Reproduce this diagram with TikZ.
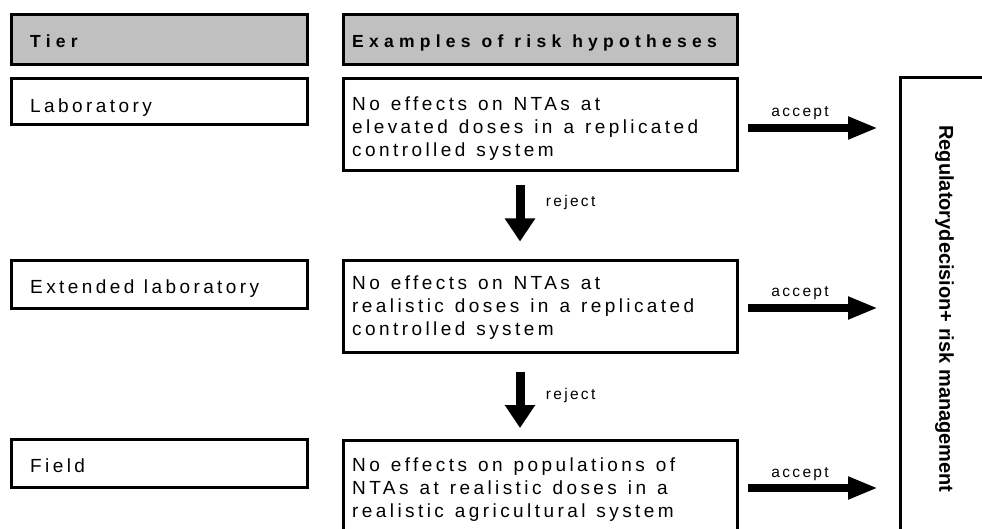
\documentclass[tikz,border=0pt]{standalone}
\usepackage{fontspec}
\usetikzlibrary{arrows.meta}
\setmainfont{Liberation Sans}
\newfontfamily\bodyfont[LetterSpace=18]{Liberation Sans}
\newfontfamily\headfont[LetterSpace=30]{Liberation Sans}
\newfontfamily\smallfont[LetterSpace=15]{Liberation Sans}
\protected\def\myhypfont{\bodyfont\fontsize{19}{23}\selectfont\spaceskip=11pt\relax}
\protected\def\myheadfont{\headfont\bfseries\fontsize{17.5}{21}\selectfont\spaceskip=11pt\relax}
\protected\def\mytierfont{\bodyfont\fontsize{19}{23}\selectfont\spaceskip=9.5pt\relax}
\definecolor{headgray}{HTML}{C0C0C0}
\begin{document}
\begin{tikzpicture}[x=1pt,y=-1pt,
  box/.style={draw=black, line width=3pt, rectangle, inner sep=0pt},
  tierbox/.style={box, minimum width=296pt, minimum height=#1},
  hypbox/.style={box, minimum width=394pt, minimum height=92pt},
  hyptext/.style={anchor=north west, align=left, inner sep=0pt, font=\myhypfont},
  headtext/.style={anchor=base west, inner sep=0pt, font=\myheadfont},
  tiertext/.style={anchor=base west, inner sep=0pt, font=\mytierfont},
  smalltext/.style={font=\smallfont\fontsize{15.5}{18}\selectfont},
  acc/.style={line width=8pt, -{Triangle[width=21pt,length=30pt]}},
  rej/.style={line width=9pt, -{Triangle[width=29pt,length=23pt]}}
]
\useasboundingbox (0,0) rectangle (982,529);
\clip (0,0) rectangle (982,529);
\fill[white] (0,0) rectangle (982,529);

% headers
\node[tierbox=50pt, fill=headgray] (th) at (159,40) {};
\node[hypbox, minimum height=50pt, fill=headgray] (eh) at (540,40) {};
\node[headtext] (tht) at (30,47.5) {Tier};
\node[headtext] (eht) at (352,47.5) {Examples of risk hypotheses};

% tiers
\node[tierbox=46pt] (t1) at (159,102) {};
\node[tierbox=47pt] (t2) at (159,284.5) {};
\node[tierbox=48pt] (t3) at (159,463) {};
\node[tiertext] (t1t) at (30,113) {Laboratory};
\node[tiertext] (t2t) at (30,294) {Extended laboratory};
\node[tiertext] (t3t) at (30,472) {Field};

% hypotheses
\node[hypbox] (h1) at (540,125) {};
\node[hypbox] (h2) at (540,306.5) {};
\node[hypbox] (h3) at (540,486) {};
\node[hyptext] (h1t) at (352,97) {No effects on NTAs at\\elevated doses in a replicated\\controlled system};
\node[hyptext] (h2t) at (352,275.5) {No effects on NTAs at\\realistic doses in a replicated\\controlled system};
\node[hyptext] (h3t) at (352,458) {No effects on populations of\\NTAs at realistic doses in a\\realistic agricultural system};

% regulatory box
\node[box, minimum width=89pt, minimum height=462pt] (rb) at (944.5,309) {};
\node[rotate=-90, font=\bfseries\fontsize{20}{24}\selectfont] (rt) at (rb.center) {Regulatorydecision+ risk management};

% accept arrows
\draw[acc, shorten <=9.5pt, shorten >=20.5pt] ([yshift=-3pt]h1.east) -- ([yshift=-3pt]h1.east -| rb.west)
  node[pos=0.385, anchor=base, yshift=11pt, smalltext] (a1) {accept};
\draw[acc, shorten <=9.5pt, shorten >=20.5pt] ([yshift=-1.5pt]h2.east) -- ([yshift=-1.5pt]h2.east -| rb.west)
  node[pos=0.385, anchor=base, yshift=11pt, smalltext] (a2) {accept};
\draw[acc, shorten <=9.5pt, shorten >=20.5pt] ([yshift=-2pt]h3.east) -- ([yshift=-2pt]h3.east -| rb.west)
  node[pos=0.385, anchor=base, yshift=11pt, smalltext] (a3) {accept};

% reject arrows
\draw[rej, shorten <=12.5pt, shorten >=17.5pt] ([xshift=-20pt]h1.south) -- ([xshift=-20pt]h2.north)
  node[pos=0.39, anchor=base west, xshift=18pt, smalltext] (r1) {reject};
\draw[rej, shorten <=17.5pt, shorten >=10.5pt] ([xshift=-20pt]h2.south) -- ([xshift=-20pt]h3.north)
  node[pos=0.54, anchor=base west, xshift=18pt, smalltext] (r2) {reject};
\end{tikzpicture}
\end{document}
